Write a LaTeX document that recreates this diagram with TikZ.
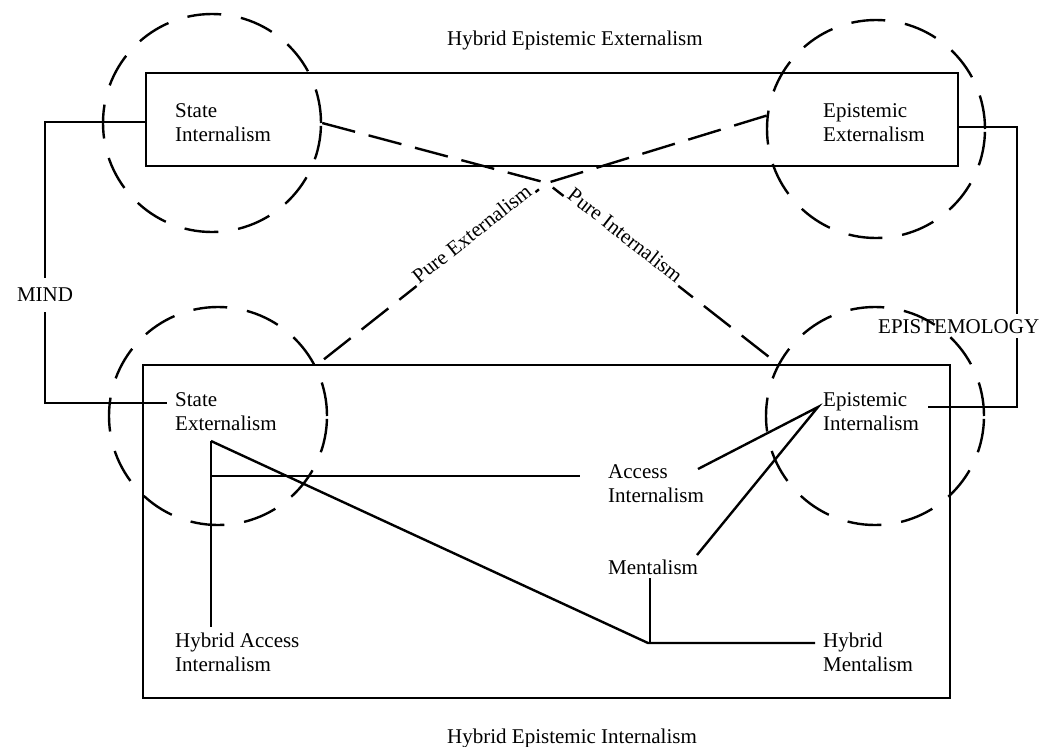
\documentclass[tikz,border=0pt]{standalone}
\usepackage{fontspec}
\setmainfont{Liberation Serif}
\usetikzlibrary{calc}
\begin{document}
\begin{tikzpicture}[x=1pt,y=-1pt,
  lbl/.style={inner sep=0pt, anchor=base west, align=left, font=\fontsize{21}{24}\selectfont},
  plbl/.style={sloped, anchor=base, fill=white, inner xsep=3pt, inner ysep=4pt, font=\fontsize{21}{24}\selectfont},
  conn/.style={line width=2.4pt, line join=miter},
  dcirc/.style={circle, draw, line width=2.4pt, dash pattern=on 34pt off 20pt, minimum size=218pt, inner sep=0pt},
  dline/.style={line width=2.4pt, dash pattern=on 34pt off 14pt},
  frame/.style={draw, line width=2.4pt, inner sep=0pt}]
\useasboundingbox (0,0) rectangle (1039,747);
% boxes
\node[frame, minimum width=812pt, minimum height=93pt] (hee) at (552,119.5) {};
\node[frame, minimum width=807pt, minimum height=333pt] (hei) at (546.5,531.5) {};
% circles
\node[dcirc] (SIc) at (212,123) {};
\node[dcirc] (EEc) at (876,129) {};
\node[dcirc] (SEc) at (218,416) {};
\node[dcirc] (EIc) at (875,416) {};
% texts (base = baseline of last line)
\node[lbl] (HEE) at (447,45) {Hybrid Epistemic Externalism};
\node[lbl] (SI) at (175,141) {State\\Internalism};
\node[lbl] (EE) at (823,141) {Epistemic\\Externalism};
\node[lbl, anchor=center, inner ysep=10pt] (MIND) at (45,295) {MIND};
\node[lbl, inner ysep=5pt] (EPI) at (878,333) {EPISTEMOLOGY};
\node[lbl] (SE) at (175,430) {State\\Externalism};
\node[lbl] (EI) at (823,430) {Epistemic\\Internalism};
\node[lbl] (AI) at (608,502) {Access\\Internalism};
\node[lbl] (ME) at (608,574) {Mentalism};
\node[lbl] (HAI) at (175,671) {Hybrid Access\\Internalism};
\node[lbl] (HM) at (823,671) {Hybrid\\Mentalism};
\node[lbl] (HEI) at (447,743) {Hybrid Epistemic Internalism};
% coordinates
\coordinate (X) at (547,183);
\coordinate (pi) at (778,364);
\coordinate (pe) at (318,364);
\coordinate (mEnd) at (167,403);
\coordinate (eX) at (1017,0);
\coordinate (eEnd) at (928,407);
\coordinate (seJ) at (211,441);
\coordinate (hJ) at (211,476);
\coordinate (haiTop) at (211,627);
\coordinate (aiL) at (580,476);
\coordinate (hmJ) at (648,643);
\coordinate (hmR) at (815,643);
\coordinate (meB) at (650,578);
\coordinate (aiR) at (698,469);
\coordinate (meT) at (697,555);
\coordinate (eiL) at (818,407);
% MIND connector
\draw[conn] ($(hee.west)+(0,2.5)$) -| (MIND.north);
\draw[conn] (MIND.south) |- (mEnd);
% EPISTEMOLOGY connector
\draw[conn] ($(hee.east)+(0,7.5)$) -| (EPI.north -| eX);
\draw[conn] (eX |- EPI.south) |- (eEnd);
% pure lines
\draw[dline] (SIc.east) -- (X) -- node[plbl, pos=.32] {Pure Internalism} (pi);
\draw[dline] (EEc.173) -- (X) -- node[plbl, pos=.31] {Pure Externalism} (pe);
% lower connectors
\draw[conn] (seJ) -- (haiTop);
\draw[conn] (hJ) -- (aiL);
\draw[conn] (seJ) -- (hmJ) -- (hmR);
\draw[conn] (meB |- hmJ) -- (meB);
\draw[conn] (aiR) -- (eiL) -- (meT);
\end{tikzpicture}
\end{document}
